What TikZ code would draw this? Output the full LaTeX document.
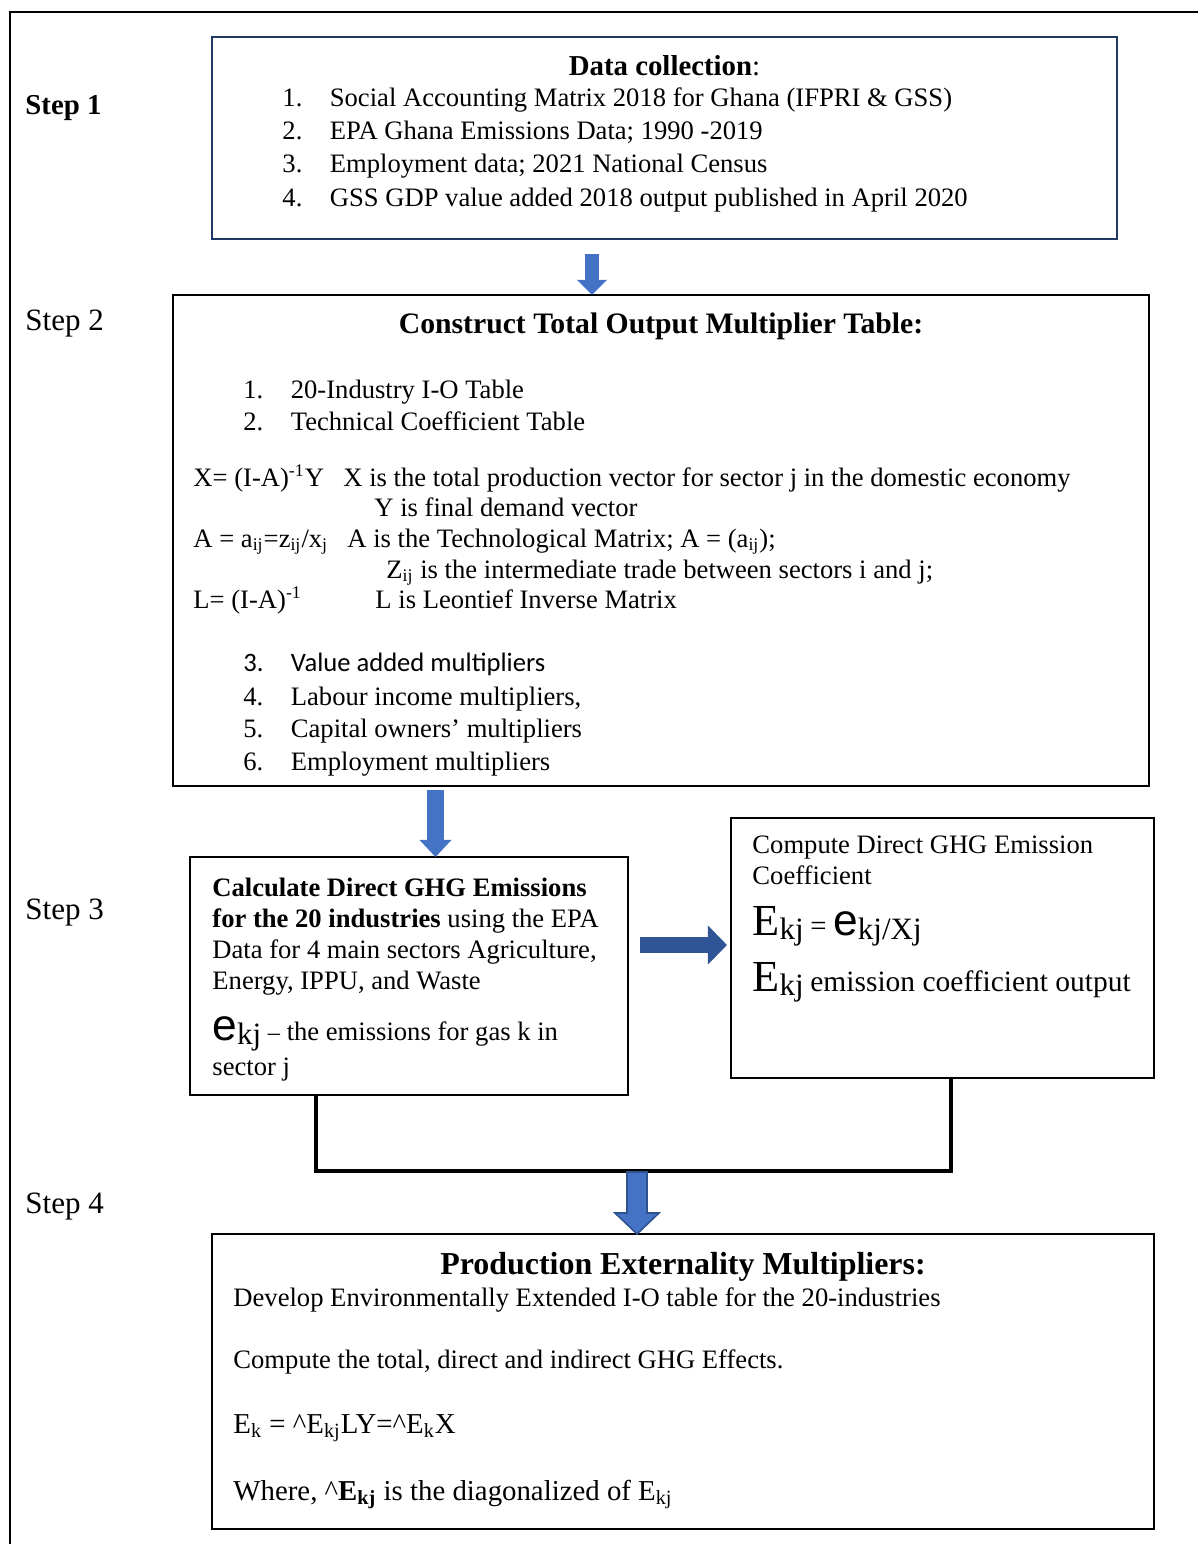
\documentclass[tikz,border=0pt]{standalone}
\usepackage{fontspec}
\setmainfont{Liberation Serif}
\newfontfamily\sansfnt{Carlito}
\newfontfamily\arialfnt{Liberation Sans}
\usetikzlibrary{arrows.meta,calc}
\definecolor{navy}{HTML}{1F3864}
\definecolor{arrowblue}{HTML}{4472C4}
\definecolor{arrowdark}{HTML}{2F5597}
\definecolor{arrowedge}{HTML}{2F528F}
\newcommand\pxu{0.451pt}
\newcommand\litem[2]{\makebox[21.4pt][l]{#1}#2}
\newcommand\bigE{{\fontsize{20}{20}\selectfont E}}
\newcommand\bige{{\arialfnt\fontsize{20}{20}\selectfont e}}
\newcommand\lowkj[1]{\raisebox{-0.35ex}{\fontsize{14}{14}\selectfont #1}}

\begin{document}
\begin{tikzpicture}[x=0.451pt, y=-0.451pt,
    box/.style = {draw, line width=0.9pt, inner sep=0pt, outer sep=0pt},
    txt/.style = {anchor=base west, inner sep=0pt, font=\fontsize{12}{14}\selectfont},
    ttl/.style = {anchor=base, inner sep=0pt, font=\bfseries\fontsize{13}{15}\selectfont},
    steplabel/.style = {anchor=base west, inner sep=0pt, font=\fontsize{14}{16}\selectfont},
    blockarrow/.style args = {#1/#2/#3}{draw=arrowblue, line width=#1, -{Triangle[width=#2,length=#3]}},
    link/.style = {line width=1.4pt}]
    \useasboundingbox (0,0) rectangle (1198,1544);
    \draw[line width=1.2pt] (10,1544) -- (10,12) -- (1198,12);

    % step labels
    \node[steplabel, font=\bfseries\fontsize{13}{15}\selectfont] (s1) at (25,114) {Step 1};
    \node[steplabel] (s2) at (25,330) {Step 2};
    \node[steplabel] (s3) at (25,919) {Step 3};
    \node[steplabel] (s4) at (25,1213) {Step 4};

    % boxes
    \node[box, draw=navy, minimum width=905*\pxu, minimum height=202*\pxu] (collect) at (664.5,138) {};
    \node[box, minimum width=976*\pxu, minimum height=491*\pxu] (output) at (661,540.5) {};
    \node[box, minimum width=438*\pxu, minimum height=238*\pxu] (calcem) at (409,976) {};
    \node[box, minimum width=423*\pxu, minimum height=260*\pxu] (coef) at (942.5,948) {};
    \node[box, minimum width=942*\pxu, minimum height=295*\pxu] (prodext) at (683,1381.5) {};

    % step 1
    \node[ttl] (t1) at (collect.center |- 0,75) {Data collection\textmd{:}};
    \node[txt] (d1) at (282,106) {\litem{1.}{Social Accounting Matrix 2018 for Ghana (IFPRI \& GSS)}};
    \node[txt] (d2) at (282,139) {\litem{2.}{EPA Ghana Emissions Data; 1990 -2019}};
    \node[txt] (d3) at (282,172) {\litem{3.}{Employment data; 2021 National Census}};
    \node[txt] (d4) at (282,206) {\litem{4.}{GSS GDP value added 2018 output published in April 2020}};

    % step 2
    \node[ttl, font=\bfseries\fontsize{13.4}{15}\selectfont] (t2) at (output.center |- 0,333) {Construct Total Output Multiplier Table:};
    \node[txt] (o1) at (243,398) {\litem{1.}{20-Industry I-O Table}};
    \node[txt] (o2) at (243,430) {\litem{2.}{Technical Coefficient Table}};
    \node[txt] (fx) at (193,486) {X= (I-A)\textsuperscript{-1}Y};
    \node[txt] (fxd) at (343,486) {X is the total production vector for sector j in the domestic economy};
    \node[txt] (fyd) at (374,516) {Y is final demand vector};
    \node[txt] (fa) at (193,547) {A = a\textsubscript{ij}=z\textsubscript{ij}/x\textsubscript{j}};
    \node[txt] (fad) at (347,547) {A is the Technological Matrix; A = (a\textsubscript{ij});};
    \node[txt] (fzd) at (386,578) {Z\textsubscript{ij} is the intermediate trade between sectors i and j;};
    \node[txt] (fl) at (193,608) {L= (I-A)\textsuperscript{-1}};
    \node[txt] (fld) at (375,608) {L is Leontief Inverse Matrix};
    \node[txt, font=\sansfnt\fontsize{12}{14}\selectfont] (o3) at (243,671) {\litem{3.}{Value added multipliers}};
    \node[txt] (o4) at (243,705) {\litem{4.}{Labour income multipliers,}};
    \node[txt] (o5) at (243,737) {\litem{5.}{Capital owners’ multipliers}};
    \node[txt] (o6) at (243,770) {\litem{6.}{Employment multipliers}};

    % step 3
    \node[txt] (c1) at (212,896) {\textbf{Calculate Direct GHG Emissions}};
    \node[txt] (c2) at (212,927) {\textbf{for the 20 industries} using the EPA};
    \node[txt] (c3) at (212,958) {Data for 4 main sectors Agriculture,};
    \node[txt] (c4) at (212,989) {Energy, IPPU, and Waste};
    \node[txt] (c5) at (212,1040) {\bige\lowkj{kj} {\fontsize{11}{11}\selectfont –} the emissions for gas k in};
    \node[txt] (c6) at (212,1075) {sector j};
    \node[txt] (k1) at (752,853) {Compute Direct GHG Emission};
    \node[txt] (k2) at (752,884) {Coefficient};
    \node[txt] (k3) at (752,935) {\bigE\lowkj{kj} {\fontsize{13}{13}\selectfont =} \bige\lowkj{kj/Xj}};
    \node[txt] (k4) at (752,991) {\bigE\lowkj{kj} {\fontsize{13.3}{15}\selectfont emission coefficient output}};

    % step 4
    \node[ttl, font=\bfseries\fontsize{14.4}{17}\selectfont] (t4) at (prodext.center |- 0,1274) {Production Externality Multipliers:};
    \node[txt] (p1) at (233,1306) {Develop Environmentally Extended I-O table for the 20-industries};
    \node[txt] (p2) at (233,1368) {Compute the total, direct and indirect GHG Effects.};
    \node[txt, font=\fontsize{13}{15}\selectfont] (p3) at (233,1433) {E\textsubscript{k} = \textasciicircum E\textsubscript{kj}LY=\textasciicircum E\textsubscript{k}X};
    \node[txt, font=\fontsize{13}{15}\selectfont] (p4) at (233,1500) {Where, \textasciicircum\textbf{E\textsubscript{kj}} is the diagonalized of E\textsubscript{kj}};

    % arrows
    \coordinate (a1) at (592,0);
    \coordinate (a2) at (435.5,0);
    \coordinate (a3) at (0,945);
    \coordinate (join) at (637,1171);
    \draw[blockarrow=5.9pt/13pt/6.8pt] ($(collect.south -| a1)+(0,15)$) -- (output.north -| a1);
    \draw[blockarrow=7.7pt/14pt/7.7pt] ($(output.south -| a2)+(0,4)$) -- (calcem.north -| a2);
    \draw[blockarrow=7.2pt/17.1pt/8.6pt, draw=arrowdark] ($(calcem.east |- a3)+(12,0)$) -- ($(coef.west |- a3)+(-4,0)$);
    \draw[link] ($(calcem.south)+(-93,0)$) |- (join) -| ($(coef.south)+(8.5,0)$);
    \draw[fill=arrowblue, draw=arrowedge, line width=0.7pt] ($(join)+(-10,1)$) -- ($(join)+(10,1)$)
        -- ($(join)+(10,42)$) -- ($(join)+(22,42)$) -- (prodext.north -| join)
        -- ($(join)+(-22,42)$) -- ($(join)+(-10,42)$) -- cycle;
\end{tikzpicture}
\end{document}
